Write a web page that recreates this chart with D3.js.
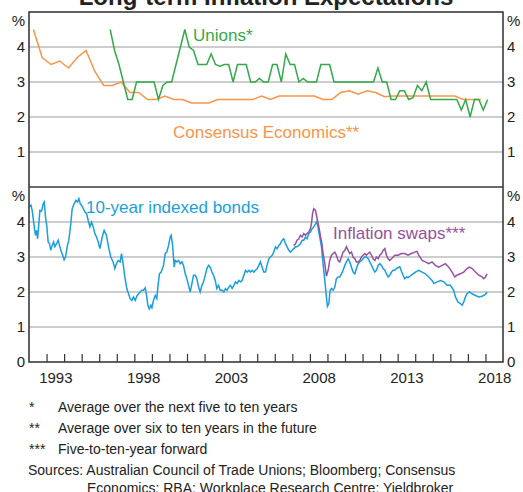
<!DOCTYPE html>
<html>
<head>
<meta charset="utf-8">
<script src="https://cdn.jsdelivr.net/npm/d3@7"></script>
<style>
  body { margin: 0; background: #fff; }
  text { font-family: "Liberation Sans", Arial, sans-serif; }
</style>
</head>
<body>
<div id="chart"></div>
<script>
// Long-term inflation expectations, two stacked panels
var w = 523;
var h = 492;
var left = 29, right = 503;
var top1 = 12, mid = 187, bottom = 362;

// top panel: survey measures
var consensusStart = 1992.25;   // half-yearly surveys
var consensusValues = [4.5, 3.7, 3.5, 3.6, 3.4, 3.7, 3.9, 3.3, 2.9, 2.9,
    3.0, 2.7, 2.7, 2.5, 2.5, 2.6, 2.5, 2.5, 2.4, 2.4,
    2.4, 2.5, 2.5, 2.5, 2.5, 2.5, 2.6, 2.5, 2.6, 2.6,
    2.6, 2.6, 2.6, 2.5, 2.5, 2.7, 2.75, 2.65, 2.75, 2.7,
    2.58, 2.6, 2.6, 2.6, 2.6, 2.6, 2.6, 2.6, 2.6, 2.5,
    2.5, 2.5];

var unionsStart = 1996.625;     // quarterly surveys
var unionsValues = [4.5, 3.9, 3.5, 3.0, 2.5, 2.5, 3.0, 3.0, 3.0, 3.0,
    3.0, 2.5, 2.9, 3.0, 3.0, 3.5, 4.0, 4.5, 4.0, 3.9,
    3.5, 3.5, 3.5, 3.8, 3.5, 3.45, 3.5, 3.5, 3.0, 3.5,
    3.5, 3.5, 3.0, 3.0, 3.1, 3.0, 3.0, 3.5, 3.5, 3.0,
    3.8, 3.5, 3.5, 3.0, 3.1, 3.0, 3.0, 3.0, 3.5, 3.5,
    3.5, 3.0, 3.0, 3.0, 3.0, 3.0, 3.0, 3.0, 3.0, 3.0,
    3.0, 3.4, 3.0, 3.0, 2.5, 2.5, 2.75, 2.75, 2.5, 2.55,
    2.9, 2.75, 3.0, 2.5, 2.5, 2.5, 2.5, 2.5, 2.5, 2.5,
    2.2, 2.5, 2.0, 2.5, 2.5, 2.2, 2.5];

// bottom panel: market measures [year, %]
var bondsData = [
    [1992.0, 4.43], [1992.11, 4.48], [1992.18, 4.33], [1992.3, 3.86], [1992.37, 3.62],
    [1992.43, 3.76], [1992.49, 3.52], [1992.56, 3.95], [1992.62, 4.33], [1992.71, 4.31],
    [1992.81, 4.52], [1992.87, 4.57], [1992.94, 4.14], [1993.02, 3.86], [1993.09, 3.43],
    [1993.17, 3.38], [1993.24, 3.19], [1993.32, 3.33], [1993.4, 3.43], [1993.47, 3.29],
    [1993.57, 3.38], [1993.66, 3.48], [1993.76, 3.29], [1993.85, 3.14], [1993.95, 3.0],
    [1994.0, 2.92], [1994.08, 3.0], [1994.19, 3.33], [1994.27, 3.48], [1994.38, 3.95],
    [1994.46, 4.38], [1994.57, 4.52], [1994.67, 4.62], [1994.76, 4.57], [1994.84, 4.67],
    [1994.92, 4.52], [1994.99, 4.48], [1995.09, 4.38], [1995.18, 4.29], [1995.28, 4.24],
    [1995.37, 4.05], [1995.47, 3.86], [1995.56, 4.0], [1995.66, 3.86], [1995.75, 3.67],
    [1995.85, 3.57], [1995.94, 3.43], [1996.04, 3.24], [1996.17, 3.57], [1996.28, 3.76],
    [1996.41, 3.62], [1996.55, 3.24], [1996.66, 3.0], [1996.79, 2.86], [1996.89, 2.67],
    [1996.98, 2.81], [1997.08, 2.9], [1997.19, 2.86], [1997.27, 3.1], [1997.36, 2.81],
    [1997.46, 2.43], [1997.57, 2.1], [1997.67, 1.95], [1997.76, 1.81], [1997.86, 1.76],
    [1997.95, 1.86], [1998.05, 1.76], [1998.14, 1.88], [1998.24, 1.95], [1998.33, 2.0],
    [1998.43, 2.05], [1998.52, 2.05], [1998.62, 2.12], [1998.71, 1.86], [1998.77, 1.62],
    [1998.85, 1.52], [1998.94, 1.62], [1999.0, 1.55], [1999.09, 1.76], [1999.19, 1.9],
    [1999.28, 1.81], [1999.34, 2.14], [1999.43, 2.52], [1999.53, 2.57], [1999.66, 2.76],
    [1999.76, 3.1], [1999.85, 3.14], [1999.95, 3.33], [2000.04, 3.57], [2000.1, 3.62],
    [2000.18, 3.33], [2000.27, 2.71], [2000.33, 2.9], [2000.42, 2.86], [2000.52, 2.9],
    [2000.61, 2.81], [2000.71, 2.86], [2000.8, 2.76], [2000.9, 2.52], [2000.99, 2.38],
    [2001.09, 2.19], [2001.18, 2.0], [2001.28, 2.24], [2001.37, 2.48], [2001.47, 2.48],
    [2001.56, 2.38], [2001.66, 2.14], [2001.75, 2.0], [2001.85, 2.19], [2001.94, 2.29],
    [2002.04, 2.48], [2002.13, 2.67], [2002.23, 2.76], [2002.32, 2.71], [2002.42, 2.57],
    [2002.51, 2.48], [2002.61, 2.33], [2002.7, 2.1], [2002.8, 2.19], [2002.89, 2.05],
    [2002.99, 2.05], [2003.1, 2.0], [2003.19, 2.1], [2003.28, 2.05], [2003.38, 2.14],
    [2003.47, 2.19], [2003.57, 2.1], [2003.67, 2.19], [2003.76, 2.29], [2003.86, 2.24],
    [2003.95, 2.33], [2004.05, 2.29], [2004.14, 2.33], [2004.24, 2.48], [2004.33, 2.62],
    [2004.43, 2.57], [2004.52, 2.62], [2004.62, 2.57], [2004.71, 2.62], [2004.81, 2.57],
    [2004.9, 2.62], [2005.0, 2.67], [2005.09, 2.76], [2005.18, 2.86], [2005.28, 2.71],
    [2005.37, 2.57], [2005.47, 2.57], [2005.56, 2.76], [2005.66, 2.95], [2005.75, 3.0],
    [2005.85, 3.05], [2005.94, 3.14], [2006.04, 3.29], [2006.13, 3.24], [2006.23, 3.33],
    [2006.32, 3.38], [2006.42, 3.48], [2006.51, 3.52], [2006.61, 3.38], [2006.7, 3.29],
    [2006.8, 3.19], [2006.89, 3.14], [2006.99, 3.19], [2007.08, 3.24], [2007.18, 3.29],
    [2007.27, 3.29], [2007.37, 3.33], [2007.46, 3.38], [2007.56, 3.48], [2007.65, 3.48],
    [2007.75, 3.57], [2007.84, 3.52], [2007.94, 3.67], [2008.03, 3.71], [2008.13, 3.81],
    [2008.22, 3.86], [2008.32, 3.95], [2008.37, 4.0], [2008.45, 3.9], [2008.51, 3.71],
    [2008.58, 3.52], [2008.66, 3.29], [2008.75, 2.81], [2008.85, 2.33], [2008.94, 1.86],
    [2009.0, 1.59], [2009.08, 1.67], [2009.15, 2.05], [2009.23, 2.1], [2009.32, 2.05],
    [2009.42, 2.14], [2009.51, 2.38], [2009.61, 2.43], [2009.7, 2.43], [2009.8, 2.52],
    [2009.89, 2.62], [2009.99, 2.76], [2010.08, 2.86], [2010.18, 2.95], [2010.27, 2.86],
    [2010.37, 2.71], [2010.46, 2.57], [2010.56, 2.52], [2010.65, 2.67], [2010.75, 2.81],
    [2010.84, 2.86], [2010.94, 2.9], [2011.03, 2.95], [2011.13, 3.0], [2011.22, 3.0],
    [2011.32, 2.95], [2011.41, 2.86], [2011.51, 2.76], [2011.6, 2.67], [2011.7, 2.57],
    [2011.79, 2.62], [2011.89, 2.76], [2011.98, 2.81], [2012.08, 2.76], [2012.17, 2.67],
    [2012.27, 2.62], [2012.36, 2.52], [2012.46, 2.43], [2012.55, 2.48], [2012.65, 2.57],
    [2012.74, 2.62], [2012.84, 2.62], [2012.93, 2.67], [2013.03, 2.7], [2013.12, 2.72],
    [2013.21, 2.6], [2013.31, 2.48], [2013.4, 2.38], [2013.5, 2.43], [2013.59, 2.41],
    [2013.69, 2.45], [2013.78, 2.48], [2013.88, 2.52], [2014.01, 2.57], [2014.2, 2.62],
    [2014.39, 2.57], [2014.58, 2.52], [2014.77, 2.43], [2014.96, 2.33], [2015.06, 2.24],
    [2015.25, 2.29], [2015.44, 2.33], [2015.63, 2.29], [2015.82, 2.19], [2016.0, 2.19],
    [2016.19, 2.05], [2016.29, 1.86], [2016.44, 1.71], [2016.57, 1.67], [2016.67, 1.62],
    [2016.76, 1.71], [2016.86, 1.86], [2016.95, 1.95], [2017.09, 2.0], [2017.24, 1.95],
    [2017.43, 1.9], [2017.62, 1.86], [2017.81, 1.88], [2018.0, 1.93], [2018.09, 2.0]
];

var swapsData = [
    [2007.08, 3.33], [2007.18, 3.38], [2007.27, 3.48], [2007.37, 3.52], [2007.46, 3.62],
    [2007.56, 3.57], [2007.65, 3.67], [2007.75, 3.62], [2007.84, 3.67], [2007.94, 3.71],
    [2008.03, 3.81], [2008.09, 3.95], [2008.15, 4.24], [2008.22, 4.38], [2008.32, 4.33],
    [2008.41, 4.1], [2008.51, 3.86], [2008.6, 3.6], [2008.68, 3.4], [2008.75, 3.1],
    [2008.85, 2.81], [2008.94, 2.45], [2009.04, 2.62], [2009.13, 2.9], [2009.23, 3.05],
    [2009.32, 3.1], [2009.42, 3.14], [2009.51, 3.05], [2009.61, 2.9], [2009.7, 2.86],
    [2009.8, 3.0], [2009.89, 3.14], [2009.99, 3.19], [2010.08, 3.29], [2010.18, 3.19],
    [2010.27, 3.1], [2010.37, 3.14], [2010.46, 3.0], [2010.56, 2.95], [2010.65, 2.86],
    [2010.75, 2.86], [2010.84, 2.9], [2010.94, 3.0], [2011.03, 3.05], [2011.13, 3.1],
    [2011.22, 3.05], [2011.32, 3.1], [2011.41, 3.14], [2011.51, 3.05], [2011.6, 2.95],
    [2011.7, 2.9], [2011.79, 3.0], [2011.89, 2.95], [2011.98, 3.05], [2012.08, 3.1],
    [2012.17, 3.19], [2012.27, 3.24], [2012.36, 3.05], [2012.46, 2.95], [2012.55, 2.9],
    [2012.65, 2.95], [2012.74, 3.0], [2012.84, 3.05], [2013.03, 3.05], [2013.21, 3.1],
    [2013.4, 3.1], [2013.59, 3.05], [2013.78, 3.1], [2013.97, 3.14], [2014.1, 3.16],
    [2014.2, 3.05], [2014.39, 2.9], [2014.58, 2.86], [2014.77, 2.81], [2014.96, 2.86],
    [2015.15, 2.76], [2015.34, 2.71], [2015.53, 2.76], [2015.72, 2.81], [2015.91, 2.71],
    [2016.1, 2.57], [2016.25, 2.43], [2016.38, 2.48], [2016.57, 2.52], [2016.76, 2.57],
    [2016.95, 2.67], [2017.09, 2.71], [2017.24, 2.67], [2017.43, 2.57], [2017.62, 2.48],
    [2017.81, 2.43], [2017.9, 2.38], [2018.0, 2.43], [2018.09, 2.52]
];

var yearLabels = [1993, 1998, 2003, 2008, 2013, 2018];
var gridValues = [1, 2, 3, 4];

var footnotes = [
    ["*", "Average over the next five to ten years"],
    ["**", "Average over six to ten years in the future"],
    ["***", "Five-to-ten-year forward"]
];
var sources = ["Sources: Australian Council of Trade Unions; Bloomberg; Consensus",
    "Economics; RBA; Workplace Research Centre; Yieldbroker"];

var colOrange = "#f7954a", colGreen = "#34a94a", colBlue = "#1a9fdc", colPurple = "#9452a0";

var svg = d3.select("#chart")
    .append("svg")
    .attr("width", w)
    .attr("height", h);

// scales
var xScale = d3.scaleLinear().domain([1992, 2019]).range([left, right]);
var yTop = d3.scaleLinear().domain([0, 5]).range([mid, top1]);
var yBot = d3.scaleLinear().domain([0, 5]).range([bottom, mid]);

// gridlines
[yTop, yBot].forEach(function (ys) {
    svg.append("g")
        .selectAll("line")
        .data(gridValues)
        .enter()
        .append("line")
        .attr("x1", left)
        .attr("x2", right)
        .attr("y1", function (d) { return ys(d); })
        .attr("y2", function (d) { return ys(d); })
        .attr("stroke", "#bdbdbd")
        .attr("stroke-width", 1.3);
});

// value labels on both sides
function sideAxis(ys, vals, isLeft) {
    var ax = (isLeft ? d3.axisLeft(ys) : d3.axisRight(ys))
        .tickValues(vals)
        .tickSize(0)
        .tickPadding(4)
        .tickFormat(d3.format("d"));
    var g = svg.append("g")
        .attr("transform", "translate(" + (isLeft ? left : right) + ",0)")
        .call(ax);
    g.select(".domain").remove();
    g.selectAll("text")
        .attr("font-size", "15px")
        .attr("font-family", "'Liberation Sans', Arial, sans-serif")
        .attr("fill", "#222");
    g.append("text")
        .text("%")
        .attr("x", isLeft ? -4 : 4)
        .attr("y", ys(5) + 14)
        .attr("text-anchor", isLeft ? "end" : "start")
        .attr("font-size", "15px")
        .attr("fill", "#222");
}
sideAxis(yTop, gridValues, true);
sideAxis(yTop, gridValues, false);
sideAxis(yBot, [0, 1, 2, 3, 4], true);
sideAxis(yBot, [0, 1, 2, 3, 4], false);

// lines
var line = function (ys) {
    return d3.line()
        .x(function (d) { return xScale(d[0]); })
        .y(function (d) { return ys(d[1]); });
};

var consensusData = consensusValues.map(function (v, i) { return [consensusStart + i * 0.5, v]; });
var unionsData = unionsValues.map(function (v, i) { return [unionsStart + i * 0.25, v]; });

svg.append("path").datum(consensusData)
    .attr("d", line(yTop))
    .attr("fill", "none").attr("stroke", colOrange).attr("stroke-width", 1.5);
svg.append("path").datum(unionsData)
    .attr("d", line(yTop))
    .attr("fill", "none").attr("stroke", colGreen).attr("stroke-width", 1.5);
svg.append("path").datum(bondsData)
    .attr("d", line(yBot))
    .attr("fill", "none").attr("stroke", colBlue).attr("stroke-width", 1.5);
svg.append("path").datum(swapsData)
    .attr("d", line(yBot))
    .attr("fill", "none").attr("stroke", colPurple).attr("stroke-width", 1.5);

// x axis: year ticks pointing up, labels centred mid-year
var xTicks = d3.axisBottom(xScale)
    .tickValues(d3.range(1993, 2019))
    .tickSize(-8)
    .tickFormat("");
var gx = svg.append("g")
    .attr("transform", "translate(0," + bottom + ")")
    .call(xTicks);
gx.select(".domain").remove();
gx.selectAll("line").attr("stroke", "#333").attr("stroke-width", 1.2);

var xLabels = d3.axisBottom(xScale)
    .tickValues(yearLabels.map(function (y) { return y + 0.5; }))
    .tickSize(0)
    .tickPadding(10)
    .tickFormat(function (d) { return Math.floor(d); });
var gl = svg.append("g")
    .attr("transform", "translate(0," + bottom + ")")
    .call(xLabels);
gl.select(".domain").remove();
gl.selectAll("text")
    .attr("font-size", "15px")
    .attr("font-family", "'Liberation Sans', Arial, sans-serif")
    .attr("fill", "#222");

// frame and panel divider
svg.append("rect")
    .attr("x", left).attr("y", top1)
    .attr("width", right - left).attr("height", bottom - top1)
    .attr("fill", "none").attr("stroke", "#3a3a3a").attr("stroke-width", 1.6);
svg.append("line")
    .attr("x1", left).attr("x2", right)
    .attr("y1", mid).attr("y2", mid)
    .attr("stroke", "#3a3a3a").attr("stroke-width", 1.6);

// title (clipped at the top, as in the original)
svg.append("text")
    .text("Long-term Inflation Expectations")
    .attr("x", 266).attr("y", 5)
    .attr("text-anchor", "middle")
    .attr("font-size", "24px")
    .attr("font-weight", "bold")
    .attr("fill", "#222");

// series labels
var seriesLabels = [
    { t: "Unions*", x: 193, y: 41, c: colGreen },
    { t: "Consensus Economics**", x: 173, y: 138, c: colOrange },
    { t: "10-year indexed bonds", x: 86, y: 213, c: colBlue },
    { t: "Inflation swaps***", x: 333, y: 239, c: colPurple }
];
svg.selectAll("text.series")
    .data(seriesLabels)
    .enter()
    .append("text")
    .attr("class", "series")
    .text(function (d) { return d.t; })
    .attr("x", function (d) { return d.x; })
    .attr("y", function (d) { return d.y; })
    .attr("font-size", "17px")
    .attr("fill", function (d) { return d.c; });

// footnotes
var fn = svg.append("g").attr("font-size", "14px").attr("fill", "#222");
footnotes.forEach(function (f, i) {
    fn.append("text").text(f[0]).attr("x", 29).attr("y", 412 + i * 21);
    fn.append("text").text(f[1]).attr("x", 58).attr("y", 412 + i * 21);
});
fn.append("text").text(sources[0]).attr("x", 28).attr("y", 475);
fn.append("text").text(sources[1]).attr("x", 87).attr("y", 493);
</script>
</body>
</html>
